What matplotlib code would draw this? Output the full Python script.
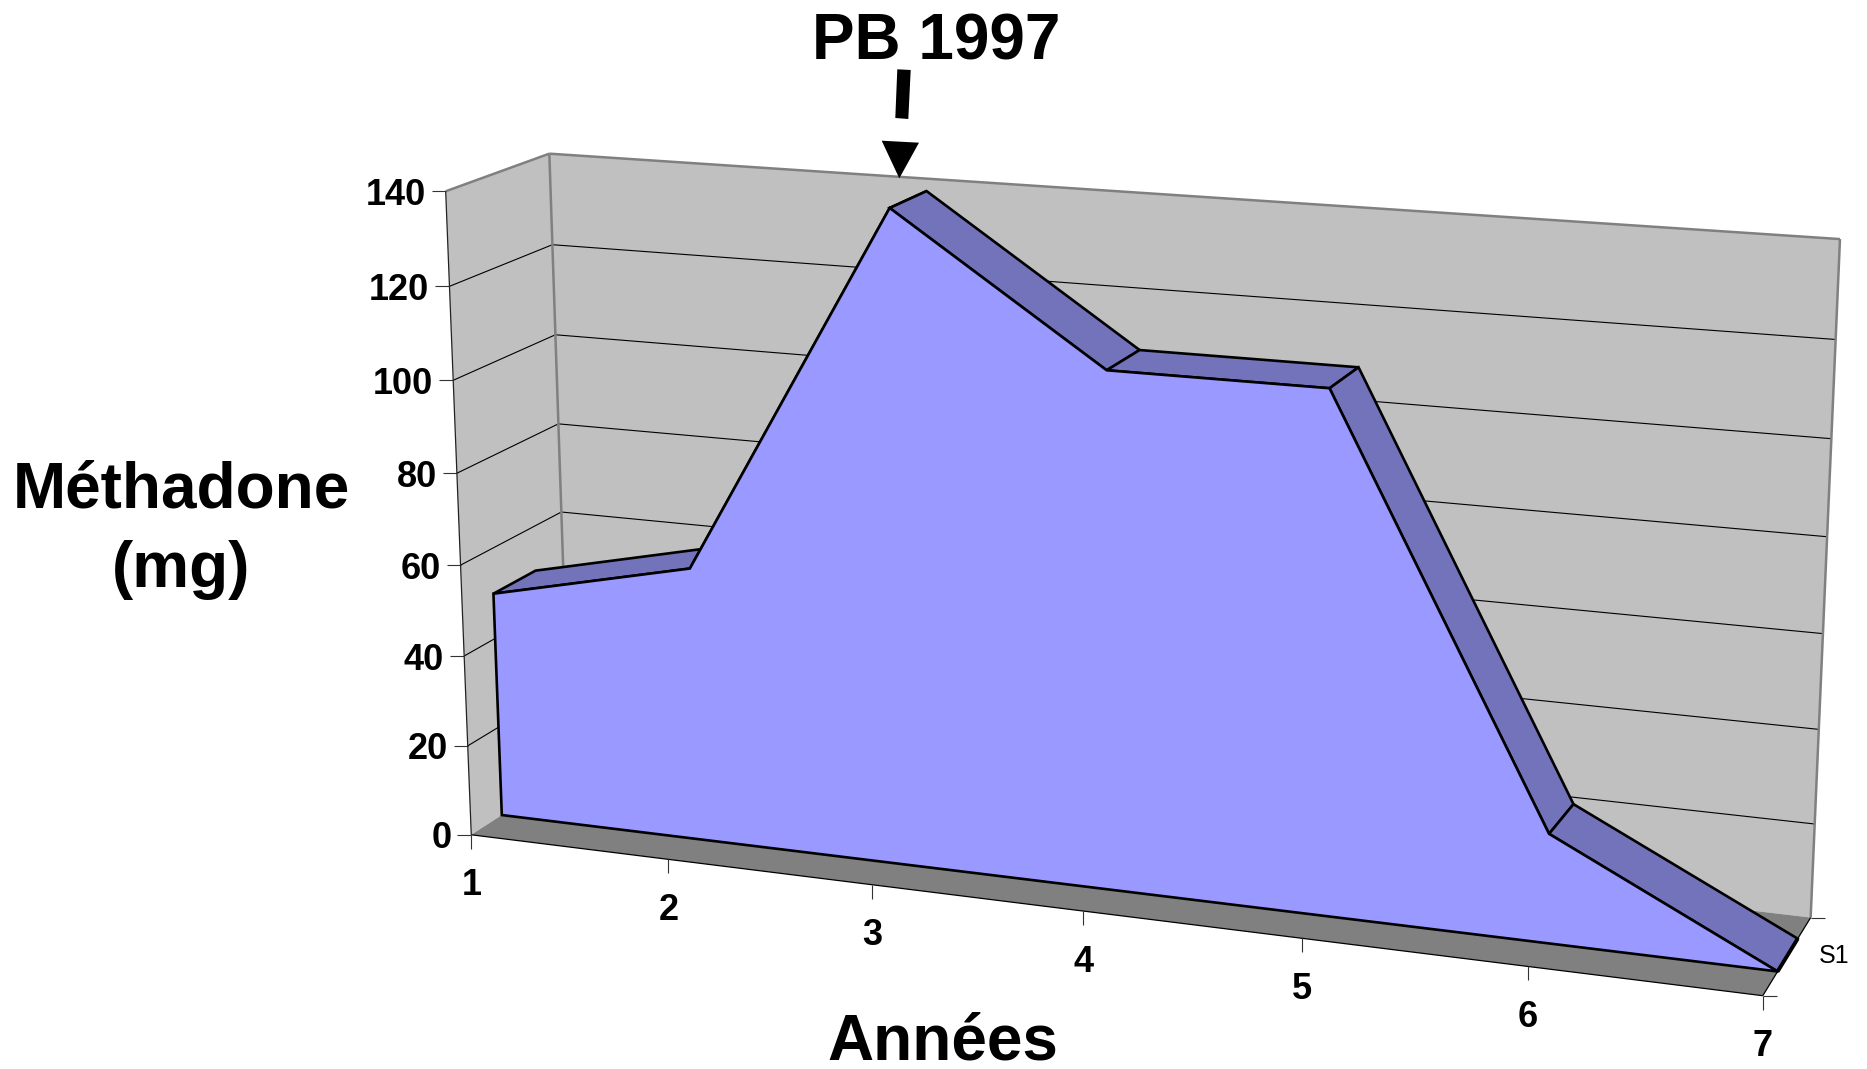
import numpy as np
import matplotlib
matplotlib.use("Agg")
import matplotlib.pyplot as plt
from matplotlib.patches import Polygon

plt.rcParams['font.family'] = ['Liberation Sans', 'DejaVu Sans']

# --- data ---
years = [1, 2, 3, 4, 5, 6, 7]
methadone_mg = [50, 60, 140, 110, 110, 23, 0]
y_ticks = [0, 20, 40, 60, 80, 100, 120, 140]
series_label = "S1"
y_title = "Méthadone\n(mg)"
x_title = "Années"
annotation = "PB 1997"

# --- colours ---
WALL = "#C0C0C0"
FLOOR = "#808080"
EDGE = "#808080"
FACE = "#9999FF"
TOP = "#7373BB"

# --- 3D view calibration: box corner (year, value, depth) -> pixel ---
calib_box = [(1, 140, 0), (1, 0, 0), (1, 140, 1), (1, 0, 1), (7, 140, 1), (7, 0, 1), (7, 0, 0)]
calib_px = [(445.7, 191), (471.3, 835.7), (549.3, 154), (570, 770), (1840, 239), (1810.7, 918.3), (1762.7, 995)]
DEPTH_FRONT, DEPTH_BACK = 0.30, 0.72


def fit_camera(box, px):
    rows = []
    for (x, v, d), (u, w) in zip(box, px):
        X = [x, v / 20.0, d * 5, 1.0]
        rows.append(X + [0, 0, 0, 0] + [-u / 1000 * c for c in X])
        rows.append([0, 0, 0, 0] + X + [-w / 1000 * c for c in X])
    _, _, vt = np.linalg.svd(np.array(rows))
    return vt[-1].reshape(3, 4)


CAM = fit_camera(calib_box, calib_px)


def P(x, v, d):
    h = CAM @ np.array([x, v / 20.0, d * 5, 1.0])
    return (h[0] / h[2] * 1000, h[1] / h[2] * 1000)


fig = plt.figure(figsize=(18.67, 10.69), dpi=100)
ax = fig.add_axes([0, 0, 1, 1])
ax.set_xlim(0, 1867)
ax.set_ylim(1069, 0)
ax.axis("off")

x0, x1 = years[0], years[-1]
vtop = y_ticks[-1]


def poly(pts, fc, ec="none", lw=0.0, z=1):
    ax.add_patch(Polygon(pts, closed=True, facecolor=fc, edgecolor=ec, linewidth=lw, zorder=z))


def line(a, b, c="black", lw=0.8, z=2):
    ax.plot([a[0], b[0]], [a[1], b[1]], color=c, lw=lw, zorder=z, solid_capstyle="butt")


# walls and floor
poly([P(x0, 0, 1), P(x0, vtop, 1), P(x1, vtop, 1), P(x1, 0, 1)], WALL)
poly([P(x0, 0, 0), P(x0, vtop, 0), P(x0, vtop, 1), P(x0, 0, 1)], WALL)
poly([P(x0, 0, 0), P(x1, 0, 0), P(x1, 0, 1), P(x0, 0, 1)], FLOOR)

# gridlines and y ticks
for v in y_ticks:
    if v > 0 and v < vtop:
        line(P(x0, v, 0), P(x0, v, 1))
        line(P(x0, v, 1), P(x1, v, 1))
    a = P(x0, v, 0)
    line((a[0] - 14, a[1]), a, c="#333333")
    ax.text(a[0] - 20, a[1], str(v), ha="right", va="center_baseline", fontsize=26, fontweight="bold", zorder=6)

# box edges
line(P(x0, 0, 1), P(x0, vtop, 1), c=EDGE, lw=1.8)
line(P(x0, vtop, 1), P(x1, vtop, 1), c=EDGE, lw=1.8)
line(P(x1, vtop, 1), P(x1, 0, 1), c=EDGE, lw=1.8)
line(P(x0, vtop, 0), P(x0, vtop, 1), c=EDGE, lw=1.8)
line(P(x0, 0, 0), P(x0, vtop, 0), c="#222222", lw=0.9)
line(P(x0, 0, 0), P(x1, 0, 0), lw=0.9)
line(P(x1, 0, 0), P(x1, 0, 1), lw=0.9)

# x ticks
for yr in years:
    a = P(yr, 0, 0)
    line(a, (a[0], a[1] + 14), c="#333333")
    ax.text(a[0], a[1] + 47, str(yr), ha="center", va="center_baseline", fontsize=26, fontweight="bold", zorder=6)

# series depth tick and label
for d in (0, 1):
    a = P(x1, 0, d)
    line(a, (a[0] + 14, a[1]), c="#333333")
a = P(x1, 0, 1)
ax.text(a[0] + 8, a[1] + 36, series_label, ha="left", va="center_baseline", fontsize=18, zorder=6)

# area: top strips, end cap, front face
EW = 1.9
for i in range(len(years) - 1):
    poly([P(years[i], methadone_mg[i], DEPTH_FRONT), P(years[i + 1], methadone_mg[i + 1], DEPTH_FRONT),
          P(years[i + 1], methadone_mg[i + 1], DEPTH_BACK), P(years[i], methadone_mg[i], DEPTH_BACK)],
         TOP, "black", EW, z=3)
line(P(x1, methadone_mg[-1], DEPTH_FRONT), P(x1, methadone_mg[-1], DEPTH_BACK), lw=2.8, z=4)
front = [P(x0, 0, DEPTH_FRONT)] + [P(x, v, DEPTH_FRONT) for x, v in zip(years, methadone_mg)]
poly(front, FACE, "black", EW, z=4)

# titles
ax.text(181, 490, y_title.split("\n")[0], ha="center", va="center", fontsize=46, fontweight="bold")
ax.text(181, 570, y_title.split("\n")[1], ha="center", va="center", fontsize=46, fontweight="bold")
ax.text(943, 1042, x_title, ha="center", va="center", fontsize=46, fontweight="bold")
ax.text(936, 43, annotation, ha="center", va="center", fontsize=46, fontweight="bold")

# annotation arrow
poly([(897.3, 69.3), (910.7, 70), (908.3, 119), (895.3, 118)], "black", z=7)
poly([(881.7, 140.7), (919, 142.7), (899.3, 178.3)], "black", z=7)

fig.savefig("out.png", dpi=100)
